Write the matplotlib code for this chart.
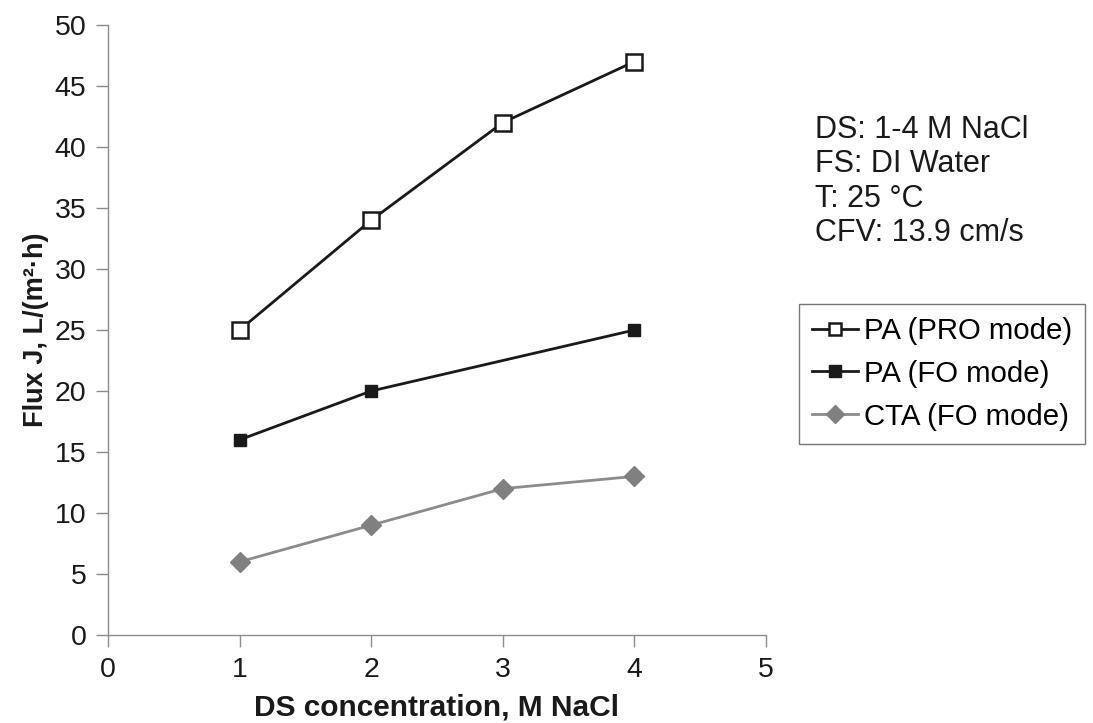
import matplotlib.pyplot as plt

plt.rcParams['font.family'] = ['Liberation Sans', 'DejaVu Sans']

# DS concentration (M NaCl) and flux values
conc = [1, 2, 3, 4]
pa_pro = [25, 34, 42, 47]
conc_fo = [1, 2, 4]          # no point shown at 3 M for PA (FO mode)
pa_fo = [16, 20, 25]
cta_fo = [6, 9, 12, 13]

conditions = ['DS: 1-4 M NaCl', 'FS: DI Water', 'T: 25 °C', 'CFV: 13.9 cm/s']

fig = plt.figure(figsize=(10.93, 7.23), dpi=100)
ax = fig.add_axes([0.0988, 0.1217, 0.602, 0.8437])

ax.plot(conc, pa_pro, color='#1a1a1a', linewidth=2, marker='s', markersize=11,
        markerfacecolor='white', markeredgecolor='#1a1a1a', markeredgewidth=1.8,
        label='PA (PRO mode)')
ax.plot(conc_fo, pa_fo, color='#1a1a1a', linewidth=2, marker='s', markersize=9,
        markerfacecolor='#1a1a1a', label='PA (FO mode)')
ax.plot(conc, cta_fo, color='#8c8c8c', linewidth=2, marker='D', markersize=10,
        markerfacecolor='#808080', markeredgecolor='#808080', label='CTA (FO mode)')

ax.set_xlim(0, 5)
ax.set_ylim(0, 50)
ax.set_xticks(range(0, 6))
ax.set_yticks(range(0, 51, 5))
for s in ['top', 'right']:
    ax.spines[s].set_visible(False)
for s in ['left', 'bottom']:
    ax.spines[s].set_color('#8c8c8c')
    ax.spines[s].set_linewidth(1)
ax.tick_params(direction='out', length=8.5, width=1, color='#8c8c8c',
               labelsize=20.5, labelcolor='#1a1a1a', pad=7)

ax.set_xlabel('DS concentration, M NaCl', fontsize=21.5, fontweight='bold',
              color='#1a1a1a', labelpad=8)
ax.set_ylabel('Flux J, L/(m²·h)', fontsize=19.5, fontweight='bold',
              color='#1a1a1a', labelpad=4)

fig.text(0.7457, 0.749, '\n'.join(conditions), fontsize=22, color='#1a1a1a',
         va='center', ha='left', linespacing=1.18)

leg = fig.legend(loc='center left', bbox_to_anchor=(0.731, 0.483), fontsize=21.2,
                 frameon=True, fancybox=False, edgecolor='#555555',
                 handlelength=1.55, handletextpad=0.2, borderpad=0.45,
                 labelspacing=0.5, borderaxespad=0)
leg.get_frame().set_linewidth(1)
for h in leg.legend_handles:
    h.set_markersize(9)

fig.savefig('out.png', dpi=100)
